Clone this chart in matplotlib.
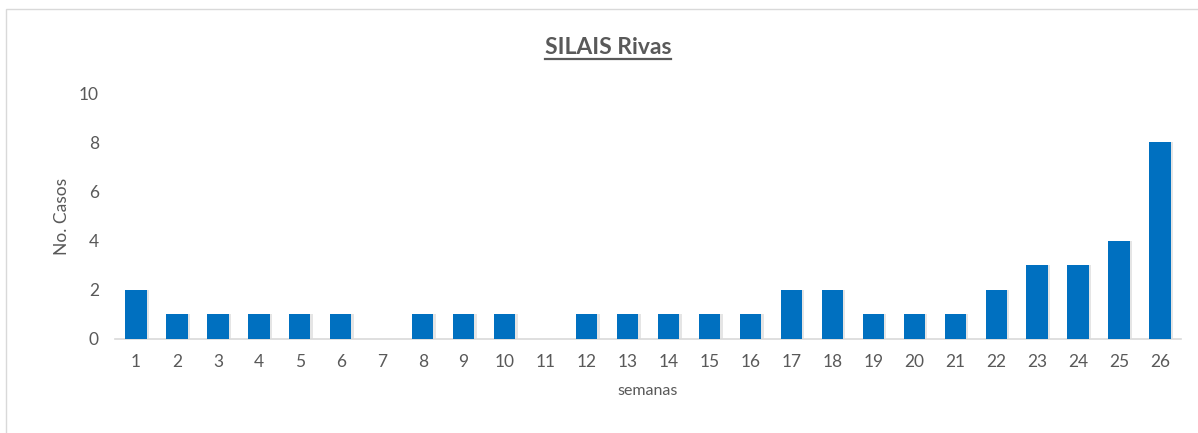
import matplotlib
matplotlib.use("Agg")
import matplotlib.pyplot as plt
from matplotlib.patches import Rectangle

semanas = [str(i) for i in range(1, 27)]
casos = [2, 1, 1, 1, 1, 1, 0, 1, 1, 1, 0, 1, 1, 1, 1, 1, 2, 2, 1, 1, 1, 2, 3, 3, 4, 8]
yticks = [0, 2, 4, 6, 8, 10]

GREY = "#595959"
BLUE = "#0070C0"
plt.rcParams["font.family"] = ["Lato", "DejaVu Sans"]

fig = plt.figure(figsize=(11.98, 4.33), dpi=100)
ax = fig.add_axes([0.0964, 0.2171, 0.889, 0.5681])

x = list(range(len(semanas)))
# soft shadow, then the bars
ax.bar([i + 0.06 for i in x], casos, width=0.52, color="#000000", alpha=0.10, zorder=2)
ax.bar(x, casos, width=0.52, color=BLUE, zorder=3)

ax.set_xlim(-0.5, len(semanas) - 0.5)
ax.set_ylim(0, 10)
ax.set_xticks(x)
ax.set_xticklabels(semanas)
ax.set_yticks(yticks)
ax.tick_params(axis="both", length=0, labelsize=12.5, colors=GREY)
ax.tick_params(axis="x", pad=11)
ax.tick_params(axis="y", pad=12)
for s in ["top", "right", "left"]:
    ax.spines[s].set_visible(False)
ax.spines["bottom"].set_color("#D9D9D9")
ax.spines["bottom"].set_linewidth(1.2)

ax.set_xlabel("semanas", fontsize=11.5, color=GREY, labelpad=10)
ax.set_ylabel("No. Casos", fontsize=12.5, color=GREY, labelpad=6)

t = fig.text(0.5075, 0.89, "SILAIS Rivas", ha="center", va="center",
             fontsize=16.5, fontweight="bold", color=GREY)
# underline under the title
fig.canvas.draw()
bb = t.get_window_extent()
fig.add_artist(plt.Line2D([bb.x0 / 1198, bb.x1 / 1198], [(bb.y0 - 1) / 433] * 2,
                          color=GREY, lw=1.6, transform=fig.transFigure))

fig.add_artist(Rectangle((6 / 1198, -0.1), 1.2, (433 - 9) / 433 + 0.1,
                         transform=fig.transFigure, fill=False,
                         edgecolor="#D9D9D9", lw=1.0))

fig.savefig("out.png", dpi=100)
